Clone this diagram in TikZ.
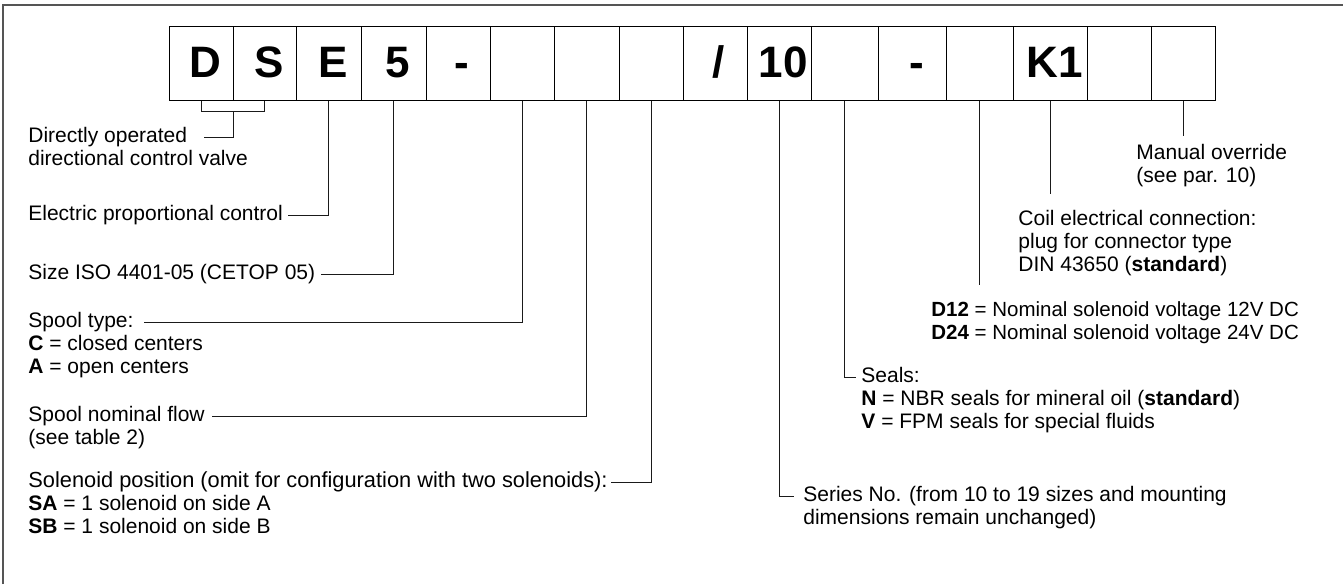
\documentclass[tikz,border=0pt]{standalone}
\usepackage{fontspec}
\setmainfont{Liberation Sans}
\usetikzlibrary{calc}
\definecolor{framegray}{HTML}{555555}
\definecolor{leadgray}{HTML}{1A1A1A}

\begin{document}
\begin{tikzpicture}[
  x=0.5pt, y=-0.5pt,
  font=\fontsize{10.5}{11.5}\selectfont,
  codebox/.style={draw=black, line width=0.5pt, inner sep=0pt, outer sep=0pt,
    minimum height=37.25pt, text height=25.875pt, text depth=11.375pt,
    font=\fontsize{22}{24}\selectfont\bfseries},
  note/.style={inner sep=0pt, anchor=west, text height=7.5pt, text depth=2.2pt},
  lead/.style={draw=leadgray, line width=0.5pt},
]
\useasboundingbox (0,0) rectangle (1343,584);
% ---------- frame ----------
\draw[framegray, line width=0.75pt] (3,584) -- (3,5) -- (1343,5);

% ---------- code boxes ----------
\foreach \i/\xl/\xr/\lab in {1/169.3/233/D, 2/233/296.7/S, 3/296.7/361/E, 4/361/426/5,
    5/426/490/-, 6/490/554.3/, 7/554.3/619/, 8/619/683/, 9/683/747/{/}, 10/747/811/10,
    11/811/878.7/, 12/878.7/946/-, 13/946/1013.3/, 14/1013.3/1087.7/K1,
    15/1087.7/1151/, 16/1151/1215/} {
  \node[codebox, minimum width={(\xr-\xl)*0.5pt}] (b\i) at ({(\xl+\xr)/2},63.25) {\hspace*{4pt}\lab};
}

% ---------- left column ----------
\node[note] (directly) at (28,137) {Directly operated};
\node[note] (directional) at (28,160) {directional control valve};
\node[note] (electric) at (28,215) {Electric proportional control};
\node[note] (size) at (28,274) {Size ISO 4401-05 (CETOP 05)};
\node[note] (spooltype) at (28,322) {Spool type:};
\node[note] (spoolc) at (28,345) {\textbf{C} = closed centers};
\node[note] (spoola) at (28,368) {\textbf{A} = open centers};
\node[note] (flow) at (28,416) {Spool nominal flow};
\node[note] (table) at (28,439) {(see table 2)};
\node[note, font=\fontsize{10.9}{11.5}\selectfont] (solpos) at (28,482) {Solenoid position (omit for configuration with two solenoids):};
\node[note] (solsa) at (28,505) {\textbf{SA} = 1 solenoid on side A};
\node[note] (solsb) at (28,528) {\textbf{SB} = 1 solenoid on side B};

% ---------- right column ----------
\node[note] (manual) at (1136,154) {Manual override};
\node[note] (par) at (1136,177) {(see par. 10)};
\node[note] (coil) at (1018,220) {Coil electrical connection:};
\node[note] (plug) at (1018,243) {plug for connector type};
\node[note] (din) at (1018,266) {DIN 43650 (\textbf{standard})};
\node[note, font=\fontsize{10.25}{11.5}\selectfont] (d12) at (931,311) {\textbf{D12} = Nominal solenoid voltage 12V DC};
\node[note, font=\fontsize{10.25}{11.5}\selectfont] (d24) at (931,334) {\textbf{D24} = Nominal solenoid voltage 24V DC};
\node[note] (seals) at (861,377) {Seals:};
\node[note] (sealn) at (861,400) {\textbf{N} = NBR seals for mineral oil (\textbf{standard})};
\node[note] (sealv) at (861,423) {\textbf{V} = FPM seals for special fluids};
\node[note] (series) at (803,496) {Series No. (from 10 to 19 sizes and mounting};
\node[note] (dims) at (803,519) {dimensions remain unchanged)};

% ---------- leaders ----------
\coordinate (dsmid) at ($(b1.south)!0.5!(b2.south)+(0,11)$);
\draw[lead] (b1.south) -- ++(0,11) -| (b2.south);
\draw[lead] (dsmid) |- ($(directly.east)+(16,0)$);
\draw[lead] (b3.south) |- ($(electric.east)+(5,0)$);
\draw[lead] (b4.south) |- ($(size.east)+(5,0)$);
\draw[lead] (b6.south) |- ($(spooltype.east)+(10,0)$);
\draw[lead] (b7.south) |- ($(flow.east)+(7,0)$);
\draw[lead] (b8.south) |- ($(solpos.east)+(3,0)$);
\draw[lead] (b10.south) |- ($(series.west)+(-9,0)$);
\draw[lead] (b11.south) |- ($(seals.west)+(-5,0)$);
\coordinate (d12end) at (b13.south |- 0,285);
\coordinate (k1end) at (b14.south |- 0,194);
\coordinate (manend) at (b16.south |- 0,136);
\draw[lead] (b13.south) -- (d12end);
\draw[lead] (b14.south) -- (k1end);
\draw[lead] (b16.south) -- (manend);
\end{tikzpicture}
\end{document}
